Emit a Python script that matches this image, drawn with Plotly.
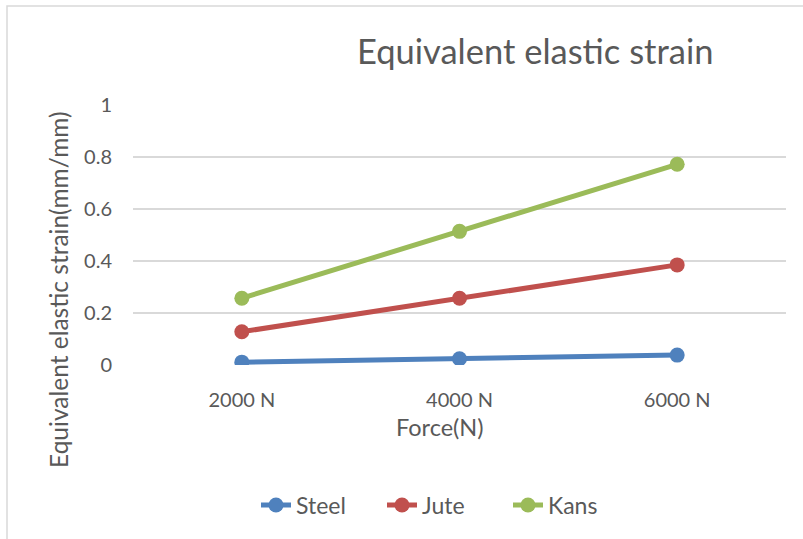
import plotly.graph_objects as go

# Equivalent elastic strain for each material at the applied loads
forces = ["2000 N", "4000 N", "6000 N"]
steel = [0.011, 0.024, 0.038]
jute = [0.128, 0.257, 0.385]
kans = [0.257, 0.514, 0.772]

series = [
    ("Steel", steel, "#4F81BD"),
    ("Jute", jute, "#C0504D"),
    ("Kans", kans, "#9BBB59"),
]

FONT = "Lato"
TXT = "#595959"

W, H = 803, 539
L, R, T, B = 133, 17, 105, 174
pw, ph = W - L - R, H - T - B


def px(x):
    return (x - L) / pw


def py(y):
    return (H - B - y) / ph


fig = go.Figure()
for name, vals, col in series:
    fig.add_trace(go.Scatter(
        x=forces, y=vals, name=name, mode="lines+markers",
        line=dict(color=col, width=5),
        marker=dict(color=col, size=15),
    ))

fig.update_layout(
    width=W, height=H,
    margin=dict(l=L, r=R, t=T, b=B),
    paper_bgcolor="white", plot_bgcolor="white",
    font=dict(family=FONT, color=TXT, size=20),
    showlegend=True,
    legend=dict(
        orientation="h", x=px(256), xanchor="left", y=py(505), yanchor="middle",
        font=dict(size=23, color=TXT), itemwidth=30, entrywidth=81,
        entrywidthmode="pixels", tracegroupgap=0,
        bgcolor="rgba(0,0,0,0)",
    ),
    xaxis=dict(
        type="category", range=[-0.5, 2.5], showgrid=False, zeroline=False,
        showline=False, ticks="", ticklabelstandoff=21,
        tickfont=dict(size=20, color=TXT),
    ),
    yaxis=dict(
        range=[0, 1], dtick=0.2, showgrid=True, gridcolor="#D9D9D9", gridwidth=1.5,
        zeroline=False, showline=False, ticks="", ticklabelstandoff=20,
        tickfont=dict(size=20, color=TXT),
    ),
    shapes=[
        dict(type="rect", xref="paper", yref="paper",
             x0=px(7), x1=px(900), y0=py(700), y1=py(6),
             line=dict(color="#D9D9D9", width=1.5), fillcolor="rgba(0,0,0,0)",
             layer="below"),
    ],
    annotations=[
        dict(text="Equivalent elastic strain", xref="paper", yref="paper",
             x=px(535), y=py(50), xanchor="center", yanchor="middle",
             showarrow=False, font=dict(size=34.5, color=TXT, family=FONT)),
        dict(text="Force(N)", xref="paper", yref="paper",
             x=px(440), y=py(427), xanchor="center", yanchor="middle",
             showarrow=False, font=dict(size=23.5, color=TXT, family=FONT)),
        dict(text="Equivalent elastic strain(mm/mm)", xref="paper", yref="paper",
             x=px(58), y=py(290), xanchor="center", yanchor="middle",
             textangle=-90, showarrow=False,
             font=dict(size=24.5, color=TXT, family=FONT)),
    ],
)

fig.write_html("out.html")
